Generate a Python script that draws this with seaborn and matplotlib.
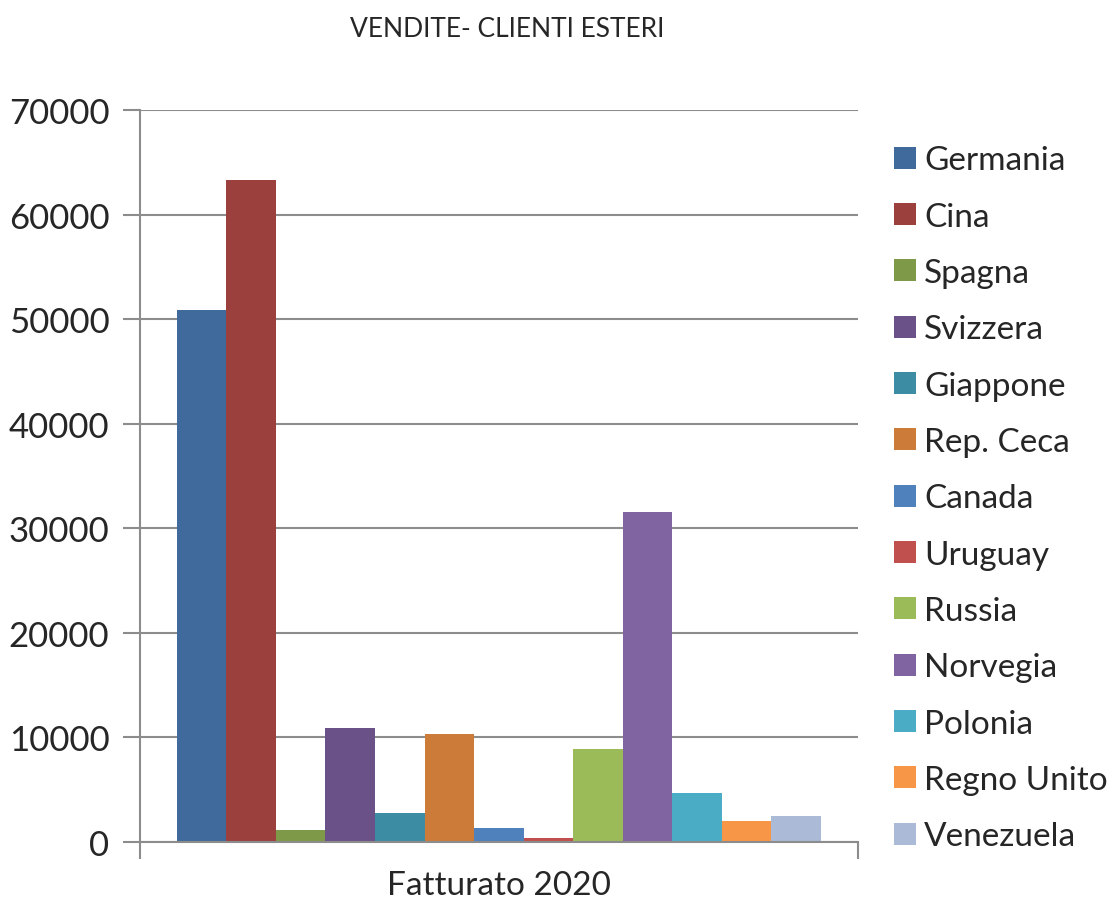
import pandas as pd
import matplotlib.pyplot as plt
import seaborn as sns
from matplotlib.patches import Patch

# values
countries = ['Germania', 'Cina', 'Spagna', 'Svizzera', 'Giappone', 'Rep. Ceca',
             'Canada', 'Uruguay', 'Russia', 'Norvegia', 'Polonia', 'Regno Unito',
             'Venezuela']
fatturato = [50870, 63350, 1170, 10920, 2800, 10370,
             1370, 350, 8850, 31550, 4680, 2030, 2510]
category = 'Fatturato 2020'
colors = ['#3F6A9B', '#9C403D', '#7E9A48', '#6A5187', '#3C8DA3', '#CC7B38',
          '#4F81BD', '#C0504D', '#9BBB59', '#8064A2', '#4BACC6', '#F79646',
          '#AABAD7']

df = pd.DataFrame({'Paese': countries, 'Valore': fatturato, 'Categoria': category})

sns.set_style("white")
plt.rcParams['font.family'] = ['Lato', 'DejaVu Sans']

fig = plt.figure(figsize=(11.17, 9.03), dpi=100)
ax = fig.add_axes([0.1253, 0.0664, 0.6425, 0.8106])

sns.barplot(data=df, x='Categoria', y='Valore', hue='Paese', hue_order=countries,
            palette=colors, width=0.897, gap=0, saturation=1, legend=False,
            edgecolor='none', ax=ax)

ax.set_xlim(-0.5, 0.5)
ax.set_ylim(0, 70000)
ax.set_yticks(range(0, 70001, 10000))
ax.grid(axis='y', color='#8C8C8C', linewidth=1.5)
ax.set_axisbelow(True)

for side in ['top', 'right']:
    ax.spines[side].set_visible(False)
for side in ['left', 'bottom']:
    ax.spines[side].set_color('#8C8C8C')
    ax.spines[side].set_linewidth(1.5)

ax.tick_params(axis='y', which='major', direction='out', length=12, width=1.5,
               color='#8C8C8C', labelsize=25, pad=10, left=True)
ax.set_xticks([0])
ax.set_xticklabels([category])
ax.set_xticks([-0.5, 0.5], minor=True)
ax.tick_params(axis='x', which='major', length=0, labelsize=24, pad=20)
ax.tick_params(axis='x', which='minor', direction='out', length=12, width=1.5,
               color='#8C8C8C', bottom=True)
ax.set_xlabel('')
ax.set_ylabel('')

fig.text(0.454, 0.967, 'VENDITE- CLIENTI ESTERI', ha='center', va='center', fontsize=19)

handles = [Patch(facecolor=c, edgecolor='none') for c in colors]
ax.legend(handles, countries, loc='upper left', bbox_to_anchor=(1.032, 0.97),
          frameon=False, fontsize=24, handlelength=0.65, handleheight=0.65,
          handletextpad=0.25, labelspacing=0.79, borderaxespad=0)

fig.savefig('out.png', dpi=100)
